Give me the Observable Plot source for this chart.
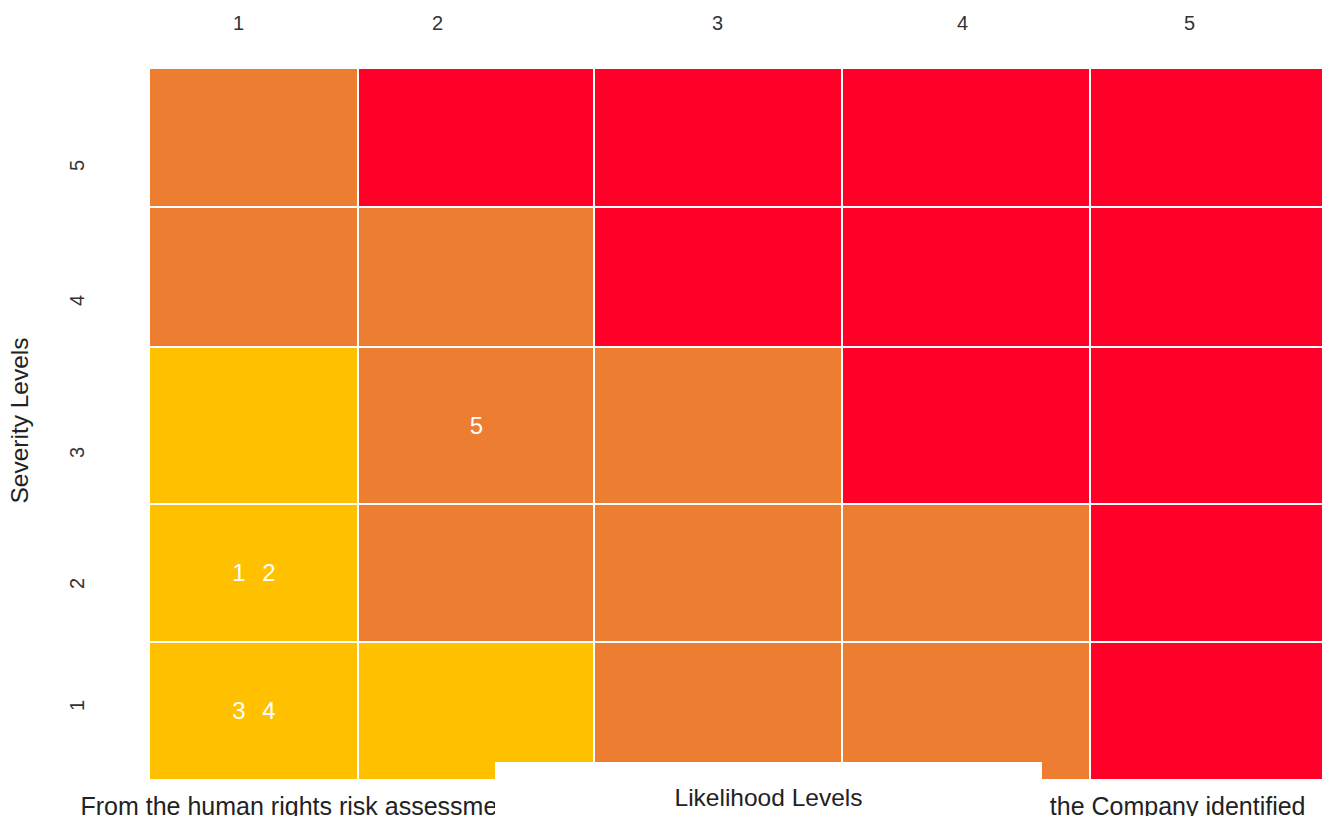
<!DOCTYPE html>
<html><head><meta charset="utf-8">
<script src="https://cdn.jsdelivr.net/npm/d3@7"></script>
<script src="https://cdn.jsdelivr.net/npm/@observablehq/plot@0.6"></script>
<style>
body{margin:0;background:#fff;}
#wrap{position:relative;width:1323px;height:816px;overflow:hidden;font-family:"Liberation Sans",Arial,sans-serif;}
#xlabel{position:absolute;left:495px;top:762px;width:547px;height:54px;background:#fff;text-align:center;font-size:24.5px;line-height:24px;padding-top:24px;box-sizing:border-box;color:#222;}
</style></head><body><div id="wrap"></div>
<script>
// ---- data ----
const likelihoodLevels = [1, 2, 3, 4, 5];
const severityLevels = [1, 2, 3, 4, 5];
// relative extent of each level band (matrix units)
const likelihoodWidths = [209, 236, 248, 248, 233];
const severityHeights = [138, 138, 157, 140, 139];
// where the tick labels sit (matrix units)
const likelihoodTickAt = [89, 288, 568, 813, 1040];
const severityTickAt = [75, 197, 328, 480, 615];
// rating per cell: rows = severity 5..1, columns = likelihood 1..5
const ratingRows = [
  ["Medium", "High", "High", "High", "High"],
  ["Medium", "Medium", "High", "High", "High"],
  ["Low", "Medium", "Medium", "High", "High"],
  ["Low", "Medium", "Medium", "Medium", "High"],
  ["Low", "Low", "Medium", "Medium", "High"]
];
const ratingNames = ["Low", "Medium", "High"];
const ratingColors = ["#FFC000", "#ED7D31", "#FF0029"];
// identified risks
const riskIds = [1, 2, 3, 4, 5];
const riskLikelihood = [1, 1, 1, 1, 2];
const riskSeverity = [2, 2, 1, 1, 3];
const captionStart = "From the human rights risk assessment";
const captionEnd = "the Company identified";
const xTitle = "Likelihood Levels";
const yTitle = "Severity Levels";

// ---- build tables ----
const xEdges = [0]; likelihoodWidths.forEach(w => xEdges.push(xEdges[xEdges.length-1] + w));
const yEdges = [0]; severityHeights.forEach(h => yEdges.push(yEdges[yEdges.length-1] + h));
const cells = [];
severityLevels.forEach((s, si) => {
  likelihoodLevels.forEach((l, li) => {
    cells.push({l, s, x1: xEdges[li], x2: xEdges[li+1], y1: yEdges[si], y2: yEdges[si+1],
      rating: ratingRows[severityLevels.length - 1 - si][li]});
  });
});
const risks = riskIds.map((id, i) => ({id, l: riskLikelihood[i], s: riskSeverity[i]}));
const groups = d3.group(risks, d => d.l + "-" + d.s);
risks.forEach(r => {
  const g = groups.get(r.l + "-" + r.s);
  r.n = g.length; r.slot = g.indexOf(r);
  const li = likelihoodLevels.indexOf(r.l), si = severityLevels.indexOf(r.s);
  r.cx = (xEdges[li] + xEdges[li+1]) / 2;
  r.cy = (yEdges[si] + yEdges[si+1]) / 2;
});
const xTicks = likelihoodLevels.map((l, i) => ({label: String(l), at: likelihoodTickAt[i]}));
const yTicks = severityLevels.map((s, i) => ({label: String(s), at: severityTickAt[i]}));

const font = "'Liberation Sans', Arial, sans-serif";
const chart = Plot.plot({
  width: 1323, height: 816,
  marginLeft: 149, marginRight: 0, marginTop: 68, marginBottom: 36,
  style: {fontFamily: font, background: "#fff", overflow: "visible"},
  x: {domain: [0, xEdges[xEdges.length-1]], axis: null},
  y: {domain: [0, yEdges[yEdges.length-1]], axis: null},
  color: {domain: ratingNames, range: ratingColors},
  marks: [
    Plot.rect(cells, {x1: "x1", x2: "x2", y1: "y1", y2: "y2", fill: "rating", stroke: "#fff", strokeWidth: 2}),
    Plot.text(risks.filter(d => d.n === 1), {x: "cx", y: "cy", text: d => String(d.id), fill: "#fff", fontSize: 24}),
    Plot.text(risks.filter(d => d.n === 2 && d.slot === 0), {x: "cx", y: "cy", text: d => String(d.id), fill: "#fff", fontSize: 24, dx: -15}),
    Plot.text(risks.filter(d => d.n === 2 && d.slot === 1), {x: "cx", y: "cy", text: d => String(d.id), fill: "#fff", fontSize: 24, dx: 15}),
    Plot.text(xTicks, {x: "at", text: "label", frameAnchor: "top", lineAnchor: "middle", textAnchor: "middle", dy: -45, fontSize: 20, fill: "#333"}),
    Plot.text(yTicks, {y: "at", text: "label", frameAnchor: "left", lineAnchor: "middle", textAnchor: "middle", dx: -72, rotate: -90, fontSize: 20, fill: "#333"}),
    Plot.text([yTitle], {text: d => d, frameAnchor: "left", lineAnchor: "middle", textAnchor: "middle", dx: -129, dy: -4, rotate: -90, fontSize: 24.5, fill: "#222"}),
    Plot.text([captionStart], {text: d => d, frameAnchor: "bottom-left", lineAnchor: "middle", textAnchor: "start", dx: -69, dy: 26, fontSize: 25, fill: "#222"}),
    Plot.text([captionEnd], {text: d => d, frameAnchor: "bottom-right", lineAnchor: "middle", textAnchor: "end", dx: -18, dy: 26, fontSize: 25, fill: "#222"})
  ]
});
const wrap = document.getElementById("wrap");
wrap.appendChild(chart);
const lab = document.createElement("div");
lab.id = "xlabel"; lab.textContent = xTitle;
wrap.appendChild(lab);
</script></body></html>
